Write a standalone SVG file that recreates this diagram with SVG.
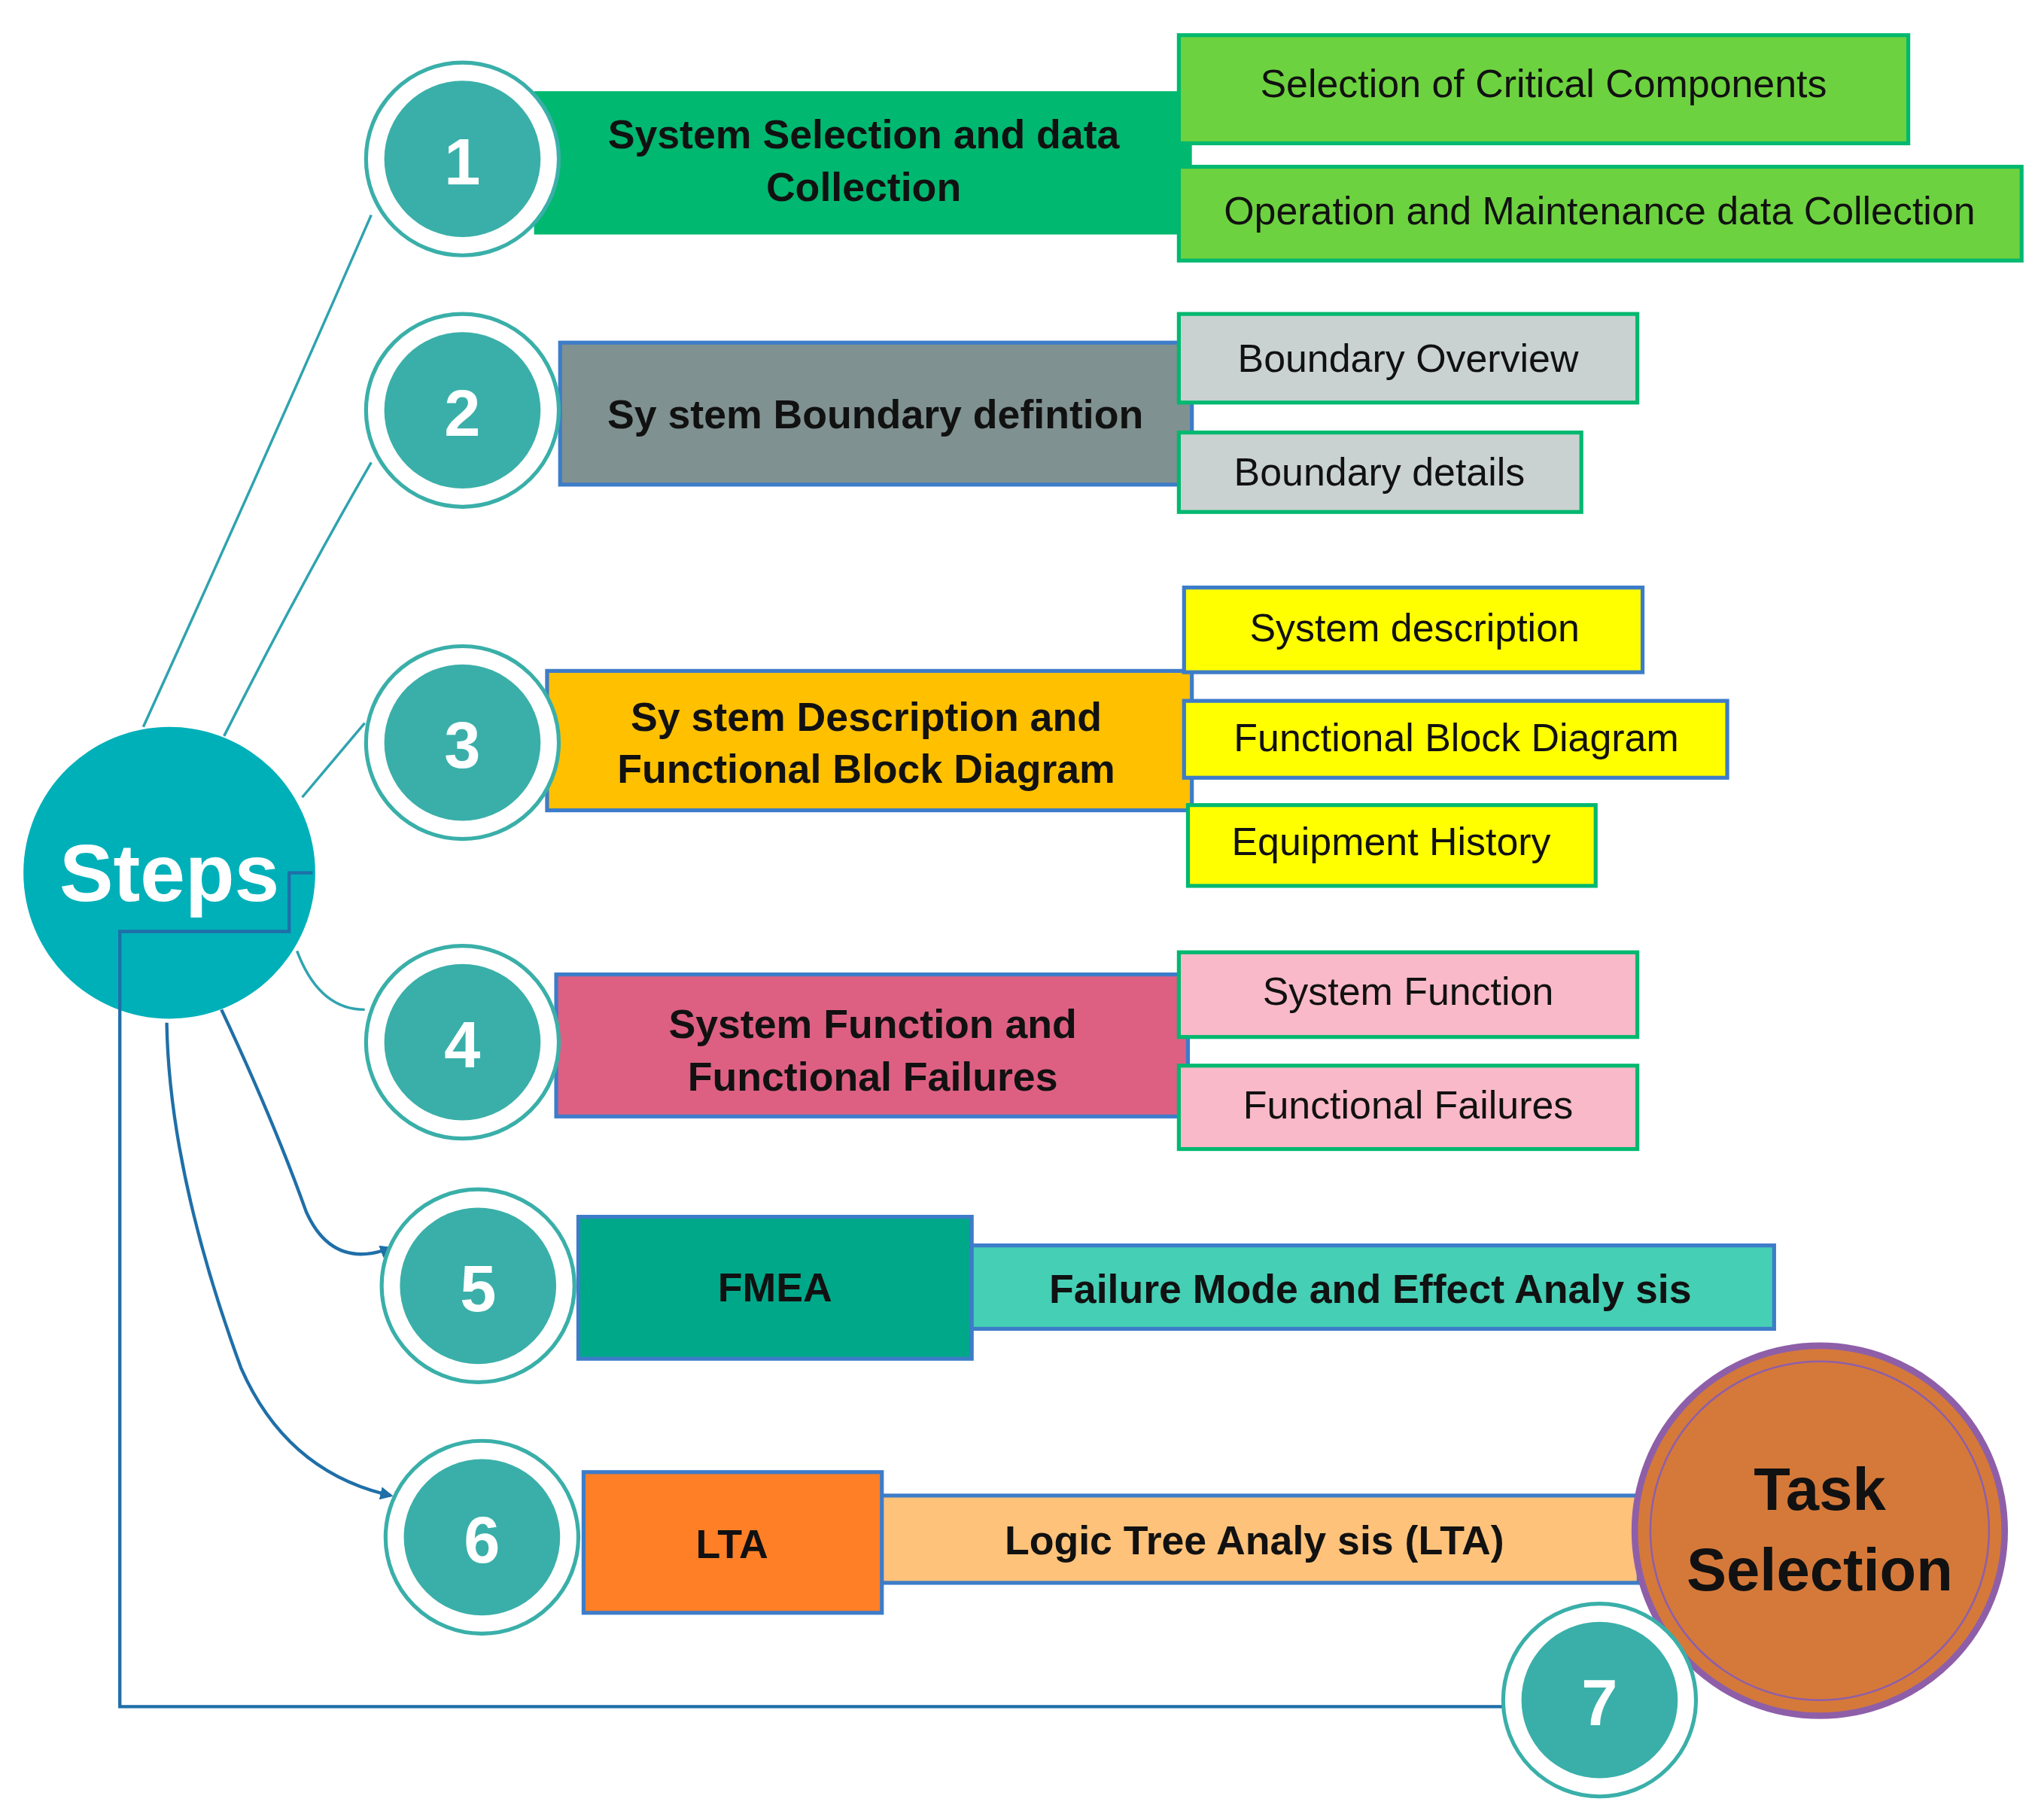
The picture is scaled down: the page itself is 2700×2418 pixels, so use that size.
<svg xmlns="http://www.w3.org/2000/svg" width="2700" height="2418" viewBox="0 0 2700 2418">
<defs>
<style>
.t{font-family:"Liberation Sans",Arial,sans-serif;fill:#111;text-anchor:middle;dominant-baseline:central}
.m{font-size:31px;font-weight:bold}
.s{font-size:30px}
.n{font-family:"Liberation Sans",Arial,sans-serif;font-size:50px;font-weight:bold;fill:#fff;text-anchor:middle;dominant-baseline:central}
.ring{fill:#fff;stroke:#3AAFA9;stroke-width:3}
.in{fill:#3AAFA9}
.gb{stroke:#00B86F;stroke-width:3}
.bb{stroke:#3D7CC9;stroke-width:3}
.c{fill:none;stroke:#2FA3B0;stroke-width:2}
.a{fill:none;stroke:#1F6FA8;stroke-width:2.5}
</style>
<marker id="ar" markerWidth="10" markerHeight="10" refX="8" refY="5" orient="auto" markerUnits="userSpaceOnUse"><path d="M0,0 L10,5 L0,10 z" fill="#1F6FA8"/></marker>
</defs>
<rect width="2700" height="2418" fill="#fff"/>
<g transform="scale(1.7308)">
<g id="steps"><circle cx="130" cy="670" r="112" fill="#00B0B9"/><text class="n" x="130" y="670" style="font-size:62px">Steps</text></g>
<g id="connectors">
<path class="c" d="M110,558 Q200,360 285,165"/>
<path class="c" d="M172,565 Q230,450 285,355"/>
<path class="c" d="M232,612 L280,555"/>
<path class="c" d="M228,730 Q245,775 280,775"/>
<path class="a" d="M170,775 Q210,860 235,930 Q255,975 300,958" marker-end="url(#ar)"/>
<path class="a" d="M128,785 Q130,900 185,1050 Q220,1130 300,1148" marker-end="url(#ar)"/>
<path class="a" d="M240,670 L222,670 L222,715 L92,715 L92,1310 L1175,1310" marker-end="url(#ar)"/>
</g>
<g id="box1"><rect x="410" y="70" width="505" height="110" fill="#00B870"/><text class="t m" x="663" y="103">System Selection and data</text><text class="t m" x="663" y="143">Collection</text></g>
<g id="box1a"><rect class="gb" x="905" y="27" width="560" height="83" fill="#6DD23F"/><text class="t s" x="1185" y="64">Selection of Critical Components</text></g>
<g id="box1b"><rect class="gb" x="905" y="128" width="647" height="72" fill="#6DD23F"/><text class="t s" x="1228" y="162">Operation and Maintenance data Collection</text></g>
<g id="box2"><rect class="bb" x="430" y="263" width="485" height="109" fill="#7F9190"/><text class="t m" x="672" y="318">Sy stem Boundary defintion</text></g>
<g id="box2a"><rect class="gb" x="905" y="241" width="352" height="68" fill="#C9D2D1"/><text class="t s" x="1081" y="275">Boundary Overview</text></g>
<g id="box2b"><rect class="gb" x="905" y="332" width="309" height="61" fill="#C9D2D1"/><text class="t s" x="1059" y="362">Boundary details</text></g>
<g id="box3"><rect class="bb" x="420" y="515" width="495" height="107" fill="#FFC000"/><text class="t m" x="665" y="550">Sy stem Description and</text><text class="t m" x="665" y="590">Functional Block Diagram</text></g>
<g id="box3a"><rect class="bb" x="909" y="451" width="352" height="65" fill="#FFFF00"/><text class="t s" x="1086" y="482">System description</text></g>
<g id="box3b"><rect class="bb" x="909" y="538" width="417" height="59" fill="#FFFF00"/><text class="t s" x="1118" y="566">Functional Block Diagram</text></g>
<g id="box3c"><rect class="gb" x="912" y="618" width="313" height="62" fill="#FFFF00"/><text class="t s" x="1068" y="646">Equipment History</text></g>
<g id="box4"><rect class="bb" x="427" y="748" width="485" height="109" fill="#DD6083"/><text class="t m" x="670" y="786">System Function and</text><text class="t m" x="670" y="826">Functional Failures</text></g>
<g id="box4a"><rect class="gb" x="905" y="731" width="352" height="65" fill="#F9B9C8"/><text class="t s" x="1081" y="761">System Function</text></g>
<g id="box4b"><rect class="gb" x="905" y="818" width="352" height="64" fill="#F9B9C8"/><text class="t s" x="1081" y="848">Functional Failures</text></g>
<g id="box5"><rect class="bb" x="444" y="934" width="302" height="109" fill="#00A88A"/><text class="t m" x="595" y="988">FMEA</text></g>
<g id="box5a"><rect class="bb" x="746" y="956" width="616" height="64" fill="#45CFB5"/><text class="t m" x="1052" y="989">Failure Mode and Effect Analy sis</text></g>
<g id="box6a"><rect class="bb" x="670" y="1148" width="588" height="67" fill="#FFC27A"/><text class="t m" x="963" y="1182">Logic Tree Analy sis (LTA)</text></g>
<g id="box6"><rect class="bb" x="448" y="1130" width="229" height="108" fill="#FF7F27"/><text class="t m" x="562" y="1185">LTA</text></g>
<g id="task"><circle cx="1397" cy="1175" r="142" fill="#D5793A" stroke="#8E5FA8" stroke-width="5"/><circle cx="1397" cy="1175" r="130" fill="none" stroke="#8E5FA8" stroke-width="1.5"/><text class="t" x="1397" y="1143" style="font-size:46px;font-weight:bold">Task</text><text class="t" x="1397" y="1205" style="font-size:46px;font-weight:bold">Selection</text></g>
<g id="c1"><circle class="ring" cx="355" cy="122" r="74"/><circle class="in" cx="355" cy="122" r="60"/><text class="n" x="355" y="124">1</text></g>
<g id="c2"><circle class="ring" cx="355" cy="315" r="74"/><circle class="in" cx="355" cy="315" r="60"/><text class="n" x="355" y="317">2</text></g>
<g id="c3"><circle class="ring" cx="355" cy="570" r="74"/><circle class="in" cx="355" cy="570" r="60"/><text class="n" x="355" y="572">3</text></g>
<g id="c4"><circle class="ring" cx="355" cy="800" r="74"/><circle class="in" cx="355" cy="800" r="60"/><text class="n" x="355" y="802">4</text></g>
<g id="c5"><circle class="ring" cx="367" cy="987" r="74"/><circle class="in" cx="367" cy="987" r="60"/><text class="n" x="367" y="989">5</text></g>
<g id="c6"><circle class="ring" cx="370" cy="1180" r="74"/><circle class="in" cx="370" cy="1180" r="60"/><text class="n" x="370" y="1182">6</text></g>
<g id="c7"><circle class="ring" cx="1228" cy="1305" r="74"/><circle class="in" cx="1228" cy="1305" r="60"/><text class="n" x="1228" y="1307">7</text></g>
</g>
</svg>
